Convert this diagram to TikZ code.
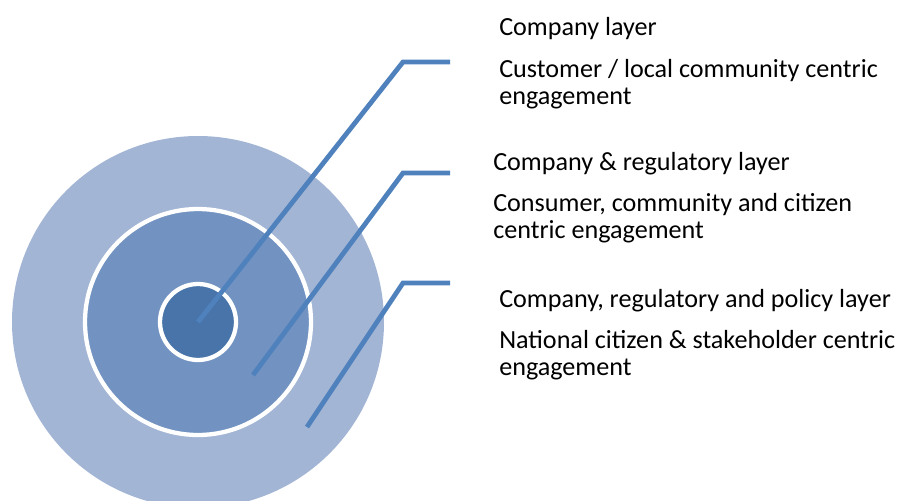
\documentclass[tikz,border=0pt]{standalone}
\usepackage{fontspec}
\setmainfont{Carlito}
\definecolor{ringA}{HTML}{A3B5D5}
\definecolor{ringB}{HTML}{7293C1}
\definecolor{ringC}{HTML}{4874AA}
\definecolor{leader}{HTML}{4F81BD}
\begin{document}
\begin{tikzpicture}[x=0.75pt,y=-0.75pt,
  lbl/.style={anchor=base west,align=left,inner sep=0pt,font=\fontsize{19.6}{20.2}\selectfont},
  lead/.style={draw=leader,line width=3.6pt}]
\useasboundingbox (0,0) rectangle (910,500);
\fill[ringA] (198,322) circle (186);
\filldraw[fill=ringB,draw=white,line width=3.2pt] (198,322) circle (113);
\filldraw[fill=ringC,draw=white,line width=3.2pt] (198,322) circle (38);
\coordinate (s1) at (198,322);
\coordinate (s2) at (253,375);
\coordinate (s3) at (307,427);
\coordinate (k1) at (403,62);
\coordinate (k2) at (403,173);
\coordinate (k3) at (403,283);
\coordinate (e1) at (450,62);
\coordinate (e2) at (450,173);
\coordinate (e3) at (450,283);
\draw[lead] (s1) -- (k1) -- (e1);
\draw[lead] (s2) -- (k2) -- (e2);
\draw[lead] (s3) -- (k3) -- (e3);
\node[lbl] (t1) at (499,35) {Company layer};
\node[lbl] (d1) at (499,104) {Customer / local community centric\\engagement};
\node[lbl] (t2) at (493,170) {Company \& regulatory layer};
\node[lbl] (d2) at (493,238) {Consumer, community and citizen\\centric engagement};
\node[lbl] (t3) at (499,307) {Company, regulatory and policy layer};
\node[lbl] (d3) at (499,375) {National citizen \& stakeholder centric\\engagement};
\end{tikzpicture}
\end{document}
